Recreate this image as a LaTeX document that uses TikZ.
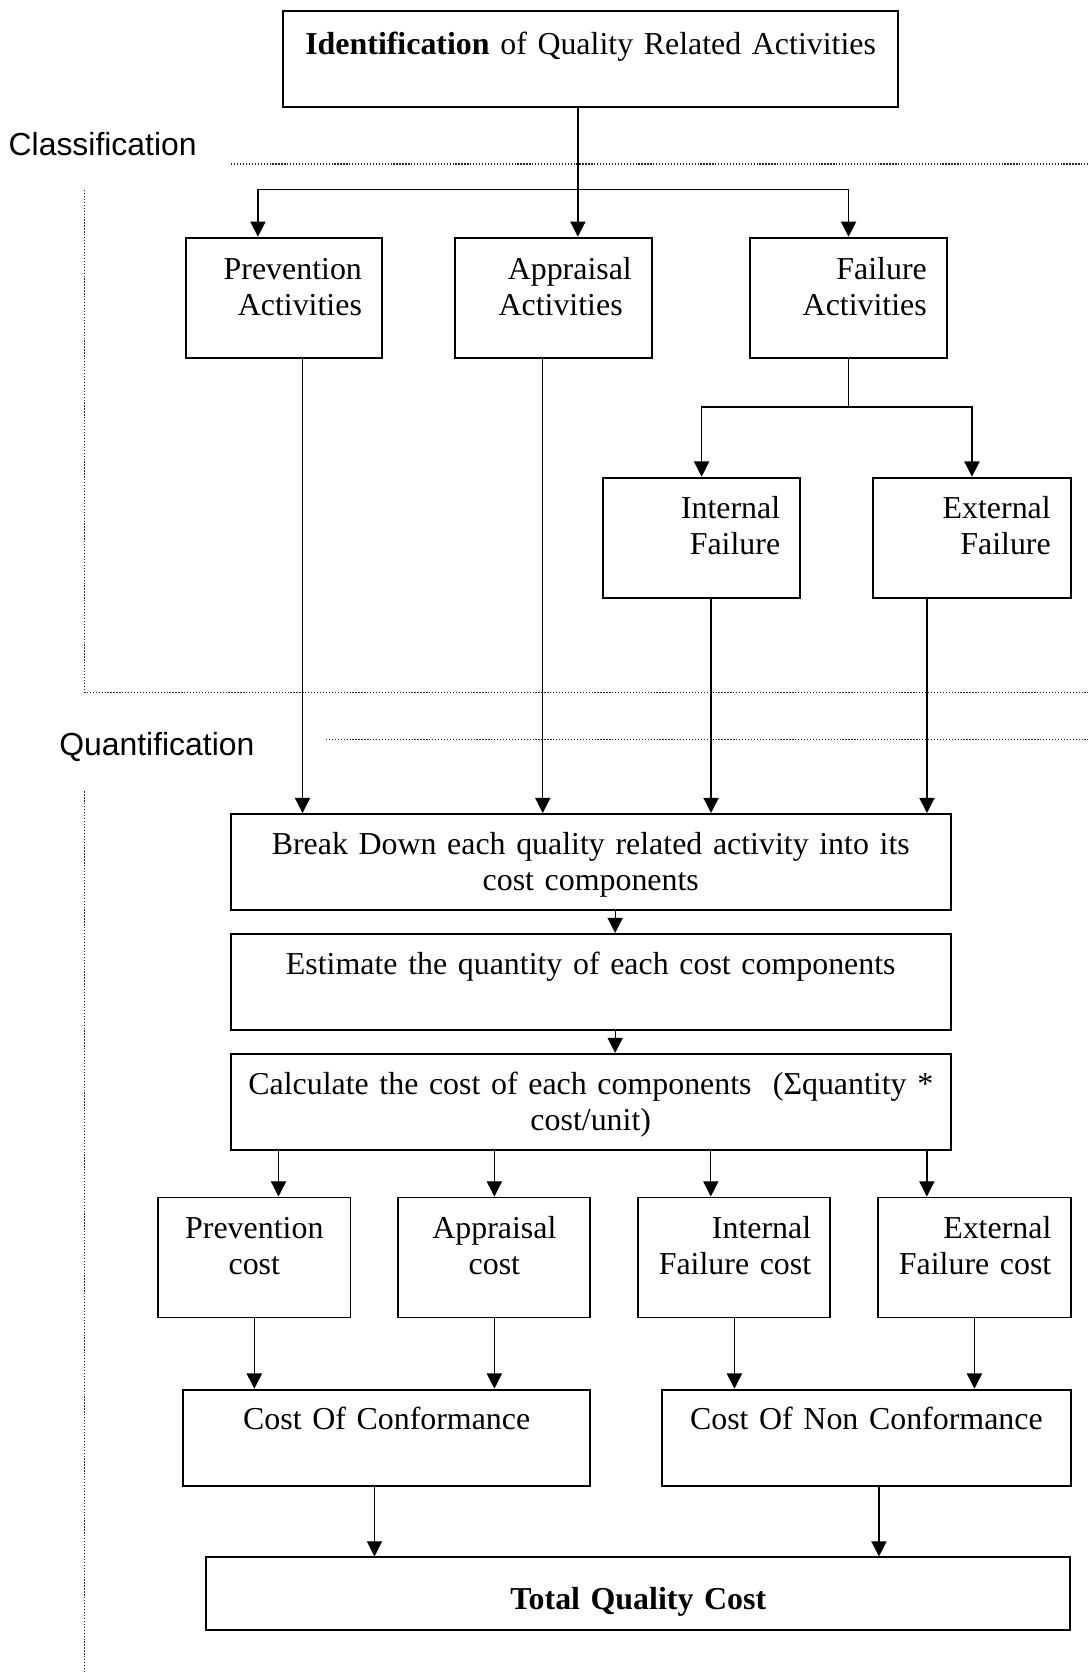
\documentclass[tikz,border=0pt]{standalone}
\usepackage{fontspec}
\setmainfont{Liberation Serif}
\setsansfont{Liberation Sans}
\usetikzlibrary{positioning, arrows.meta, calc}

% slightly narrower word spaces inside the boxes
\newcommand\tightspace{\spaceskip=3.9pt plus 1pt minus 0.5pt\relax}

\begin{document}
\begin{tikzpicture}[
  font=\fontsize{22.7}{25.6}\selectfont\tightspace,
  box/.style={draw, line width=1.4pt, anchor=north west, inner xsep=0.5cm, inner ysep=0pt, align=center},
  stage/.style={font=\sffamily\fontsize{22.7}{25.6}\selectfont, inner sep=0pt, anchor=base west},
  flow/.style={->, line width=0.9pt},
  sepline/.style={line width=0.9pt, black!85, dash pattern=on 0.9pt off 1.2pt},
  >={Triangle[length=0.38cm, width=0.38cm]}
]
\useasboundingbox (0,0) rectangle (27.2,-41.81);

% stage labels and dotted separators
\node[stage] (classlbl) at (0.21,-3.90) {Classification};
\node[stage] (quantlbl) at (1.475,-18.89) {Quantification};
\draw[sepline] (5.78,-4.1) -- (27.2,-4.1);
\draw[sepline] (2.12,-4.75) -- (2.12,-17.32) -- (27.2,-17.32);
\draw[sepline] (8.15,-18.5) -- (27.2,-18.5);
\draw[sepline] (2.12,-19.79) -- (2.12,-41.81);

% classification part
\node[box, text width=14.39cm, text height=1.1cm, text depth=1.31cm] (ident) at (7.05,-0.24)
  {\textbf{Identification} of Quality Related Activities};
\node[box, align=right, text width=3.91cm, text height=1.045cm, text depth=1.955cm] (prevact) at (4.615,-5.92)
  {Prevention\\Activities};
\node[box, align=right, text width=3.915cm, text height=1.045cm, text depth=1.955cm] (appact) at (11.36,-5.92)
  {Appraisal\\Activities\rule{0.23cm}{0pt}};
\node[box, align=right, text width=3.91cm, text height=1.045cm, text depth=1.955cm] (failact) at (18.74,-5.92)
  {Failure\\Activities};
\node[box, align=right, text width=3.93cm, text height=1.015cm, text depth=1.995cm] (intfail) at (15.055,-11.92)
  {Internal\\Failure};
\node[box, align=right, text width=3.94cm, text height=1.015cm, text depth=1.995cm] (extfail) at (21.81,-11.92)
  {External\\Failure};

% quantification part
\node[box, inner xsep=0.2cm, text width=17.615cm, text height=1.02cm, text depth=1.375cm] (breakdown) at (5.74,-20.33)
  {Break Down each quality related activity into its\\cost components};
\node[box, inner xsep=0.2cm, text width=17.615cm, text height=1.02cm, text depth=1.375cm] (estimate) at (5.74,-23.33)
  {Estimate the quantity of each cost components};
\node[box, inner xsep=0.2cm, text width=17.615cm, text height=1.02cm, text depth=1.38cm] (calc) at (5.74,-26.33)
  {Calculate the cost of each components~~(Σquantity *\\cost/unit)};
\node[box, inner xsep=0.3cm, text width=4.21cm, text height=1.02cm, text depth=1.98cm] (prevcost) at (3.93,-29.92)
  {Prevention\\cost};
\node[box, inner xsep=0.3cm, text width=4.205cm, text height=1.02cm, text depth=1.98cm] (appcost) at (9.935,-29.92)
  {Appraisal\\cost};
\node[box, align=right, inner xsep=0.48cm, text width=3.84cm, text height=1.02cm, text depth=1.98cm] (intcost) at (15.94,-29.92)
  {Internal\\Failure cost};
\node[box, align=right, inner xsep=0.48cm, text width=3.845cm, text height=1.02cm, text depth=1.98cm] (extcost) at (21.94,-29.92)
  {External\\Failure cost};
\node[box, text width=9.19cm, text height=1.0cm, text depth=1.405cm] (conf) at (4.55,-34.725)
  {Cost Of Conformance};
\node[box, text width=9.21cm, text height=1.0cm, text depth=1.405cm] (nonconf) at (16.535,-34.725)
  {Cost Of Non Conformance};
\node[box, text width=20.6cm, text height=1.305cm, text depth=0.505cm] (total) at (5.135,-38.92)
  {\textbf{Total Quality Cost}};

% identification splits into the three activity groups
\coordinate (split) at (14.45,-4.73);
\draw[flow] (ident.south -| split) -- (split |- appact.north);
\draw[flow] (split) -| ([xshift=1.835cm]prevact.north west);
\draw[flow] (split) -| (failact.north);
% failure splits into internal / external
\coordinate (fork) at ($(failact.south)+(0,-1.205)$);
\draw[line width=0.9pt] (failact.south) -- (fork);
\draw[flow] (fork) -| (intfail.north);
\draw[flow] (fork) -| (extfail.north);

% every activity feeds the break down step
\draw[flow] ([xshift=0.47cm]prevact.south) -- ([xshift=0.47cm]prevact.south |- breakdown.north);
\draw[flow] ([xshift=-0.27cm]appact.south) -- ([xshift=-0.27cm]appact.south |- breakdown.north);
\draw[flow] ([xshift=0.235cm]intfail.south) -- ([xshift=0.235cm]intfail.south |- breakdown.north);
\draw[flow] ([xshift=-1.125cm]extfail.south) -- ([xshift=-1.125cm]extfail.south |- breakdown.north);

% break down -> estimate -> calculate
\draw[flow] ([xshift=0.61cm]breakdown.south) -- ([xshift=0.61cm]estimate.north);
\draw[flow] ([xshift=0.61cm]estimate.south) -- ([xshift=0.61cm]calc.north);

% calculate -> the four cost categories
\draw[flow] ([xshift=0.605cm]prevcost.north |- calc.south) -- ([xshift=0.605cm]prevcost.north);
\draw[flow] (appcost.north |- calc.south) -- (appcost.north);
\draw[flow] ([xshift=-0.59cm]intcost.north |- calc.south) -- ([xshift=-0.59cm]intcost.north);
\draw[flow] ([xshift=-1.19cm]extcost.north |- calc.south) -- ([xshift=-1.19cm]extcost.north);

% cost categories -> conformance / non conformance
\draw[flow] (prevcost.south) -- (prevcost.south |- conf.north);
\draw[flow] (appcost.south) -- (appcost.south |- conf.north);
\draw[flow] (intcost.south) -- (intcost.south |- nonconf.north);
\draw[flow] (extcost.south) -- (extcost.south |- nonconf.north);

% both sum up to the total
\draw[flow] ([xshift=-0.305cm]conf.south) -- ([xshift=-0.305cm]conf.south |- total.north);
\draw[flow] ([xshift=0.315cm]nonconf.south) -- ([xshift=0.315cm]nonconf.south |- total.north);
\end{tikzpicture}
\end{document}
